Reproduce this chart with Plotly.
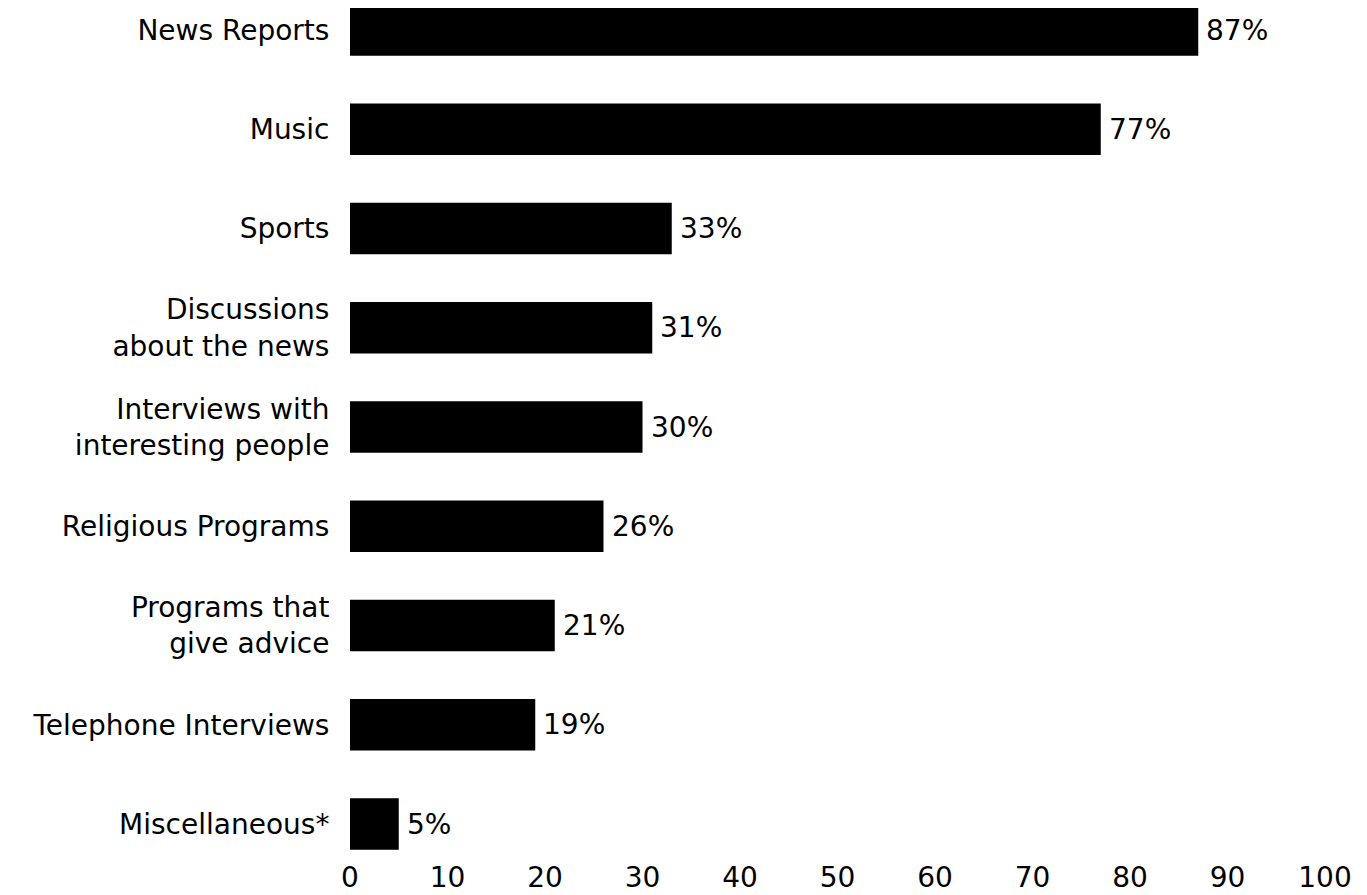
import plotly.graph_objects as go

categories = [
    "News Reports",
    "Music",
    "Sports",
    "Discussions<br>about the news",
    "Interviews with<br>interesting people",
    "Religious Programs",
    "Programs that<br>give advice",
    "Telephone Interviews",
    "Miscellaneous*",
]
values = [87, 77, 33, 31, 30, 26, 21, 19, 5]
value_labels = ["87%", "77%", "33%", "31%", "30%", "26%", "21%", "19%", "5%"]
x_ticks = [0, 10, 20, 30, 40, 50, 60, 70, 80, 90, 100]

FONT = "DejaVu Sans"
FS = 28

fig = go.Figure(
    go.Bar(
        y=categories,
        x=values,
        orientation="h",
        marker=dict(color="black", line=dict(width=0)),
        width=0.52,
        hoverinfo="skip",
    )
)

for cat, v, lab in zip(categories, values, value_labels):
    fig.add_annotation(
        x=v, y=cat, text=lab, showarrow=False,
        xanchor="left", yanchor="middle", xshift=6,
        font=dict(family=FONT, size=FS, color="black"),
    )

fig.update_layout(
    width=1359, height=887,
    margin=dict(l=342, r=42, t=0, b=45, autoexpand=False),
    paper_bgcolor="white", plot_bgcolor="white",
    showlegend=False,
    font=dict(family=FONT, size=FS, color="black"),
    bargap=0.48,
)
fig.update_xaxes(
    range=[0, 100], tickvals=x_ticks, ticktext=[str(t) for t in x_ticks],
    showgrid=False, zeroline=False, showline=False, automargin=False,
    ticks="outside", ticklen=2, tickcolor="white",
    tickfont=dict(family=FONT, size=FS, color="black"),
)
fig.update_yaxes(
    range=[8.262, -0.222],
    showgrid=False, zeroline=False, showline=False, automargin=False,
    ticks="outside", ticklen=14, tickcolor="white",
    tickfont=dict(family=FONT, size=FS, color="black"),
)

fig.write_html("out.html")
